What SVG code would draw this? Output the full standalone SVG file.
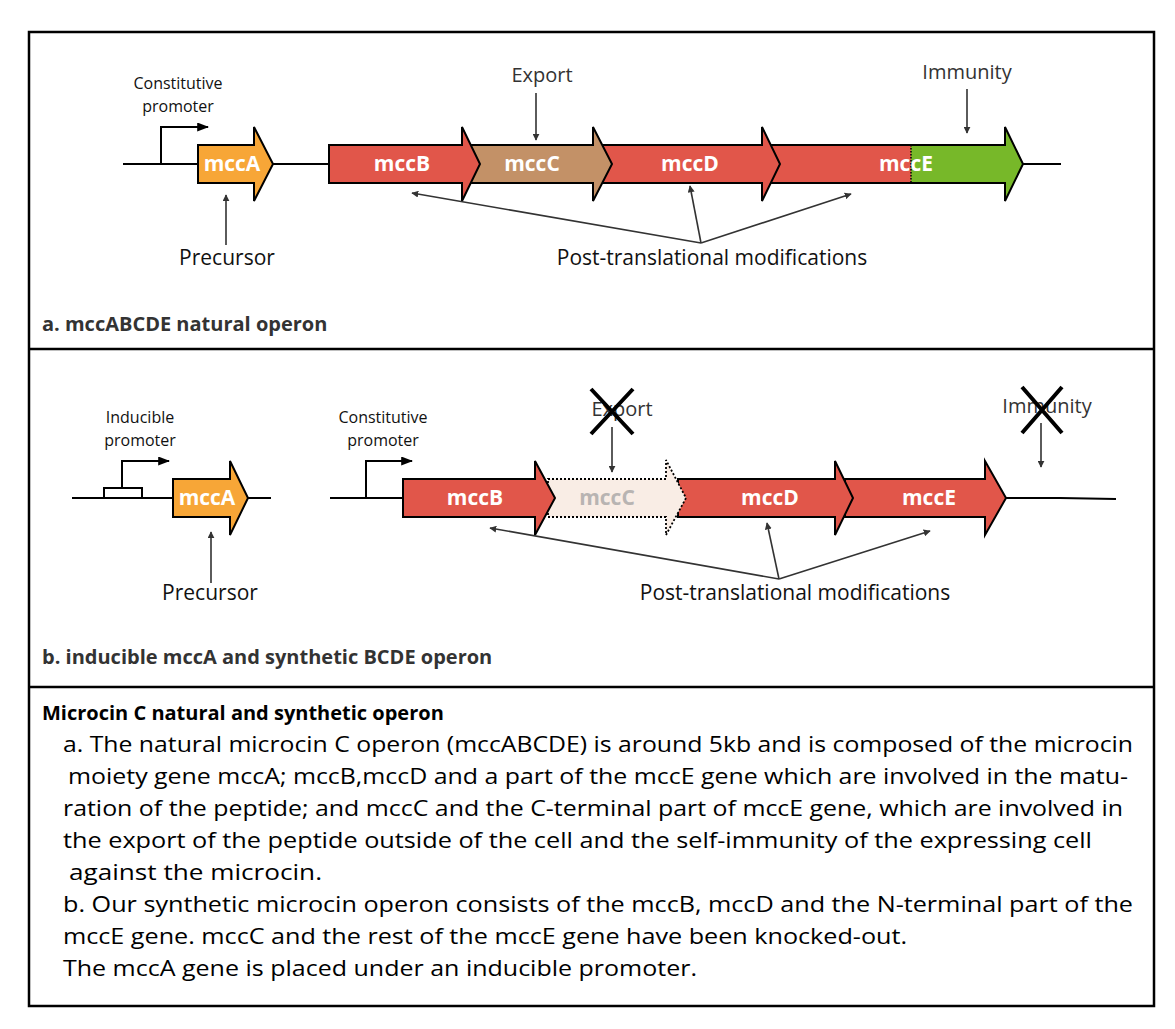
<svg xmlns="http://www.w3.org/2000/svg" width="1175" height="1029" viewBox="0 0 1175 1029">
<defs>
<marker id="ah" viewBox="0 0 10 10" refX="9" refY="5" markerWidth="7" markerHeight="7" markerUnits="userSpaceOnUse" orient="auto"><path d="M0,0 L10,5 L0,10 z" fill="#333"/></marker>
<marker id="ph" viewBox="0 0 10 10" refX="9" refY="5" markerWidth="12" markerHeight="9" markerUnits="userSpaceOnUse" orient="auto" preserveAspectRatio="none"><path d="M0,0 L10,5 L0,10 z" fill="#000"/></marker>
</defs>
<style>
.frame{fill:none;stroke:#000;stroke-width:2.5}
.dna{fill:none;stroke:#000;stroke-width:2}
.gene{stroke:#000;stroke-width:2;stroke-linejoin:miter}
.red{fill:#e1564a}
.org{fill:#f7a637}
.tan{fill:#c39167}
.grn{fill:#77b829}
.ghost{fill:#f9ede5;stroke:#000;stroke-width:1.8;stroke-dasharray:2 2}
.gl{font-family:"Open Sans",sans-serif;font-weight:bold;font-size:21px;fill:#fff;text-anchor:middle}
.prom{fill:none;stroke:#000;stroke-width:2;marker-end:url(#ph)}
.lab{font-family:"Open Sans",sans-serif;font-size:16px;fill:#111;text-anchor:middle}
.big{font-family:"Open Sans",sans-serif;font-size:21px;fill:#111;text-anchor:middle}
.fn{font-family:"Open Sans",sans-serif;font-size:20px;fill:#333;text-anchor:middle}
.con{fill:none;stroke:#333;stroke-width:1.6;marker-end:url(#ah)}
.hd{font-family:"Open Sans",sans-serif;font-weight:bold;font-size:20px;fill:#333}
.ttl{font-family:"Open Sans",sans-serif;font-weight:bold;font-size:20px;fill:#000}
.body{font-family:"Open Sans",sans-serif;font-size:21.5px;fill:#000}
.x{stroke:#000;stroke-width:4;fill:none}
</style>
<g id="frame">
<rect class="frame" x="29" y="32" width="1125" height="974"/>
<line class="frame" x1="29" y1="349" x2="1154" y2="349"/>
<line class="frame" x1="29" y1="687" x2="1154" y2="687"/>
</g>
<g id="section-a">
<g id="dna-a">
<line class="dna" x1="123" y1="164" x2="200" y2="164"/>
<line class="dna" x1="272" y1="164" x2="331" y2="164"/>
<line class="dna" x1="1022" y1="164" x2="1061" y2="164"/>
</g>
<g id="promoter-a">
<polyline class="prom" points="161,164 161,127 208,127"/>
<text class="lab" x="178" y="89">Constitutive</text>
<text class="lab" x="178" y="112">promoter</text>
</g>
<g id="mccE-a">
<polygon class="red" points="770,145 911,145 911,183 770,183"/>
<polygon class="grn" points="911,145 1005,145 1005,127 1023,164 1005,201 1005,183 911,183"/>
<polygon class="gene" fill="none" points="770,145 1005,145 1005,127 1023,164 1005,201 1005,183 770,183"/>
<line x1="911" y1="145" x2="911" y2="183" stroke="#000" stroke-width="1.5" stroke-dasharray="1.5 1.5"/>
<text class="gl" x="906" y="171">mccE</text>
</g>
<g id="mccD-a">
<polygon class="gene red" points="600,145 762,145 762,127 780,164 762,201 762,183 600,183"/>
<text class="gl" x="690" y="171">mccD</text>
</g>
<g id="mccC-a">
<polygon class="gene tan" points="470,145 593,145 593,127 612,164 593,201 593,183 470,183"/>
<text class="gl" x="532" y="171">mccC</text>
</g>
<g id="mccB-a">
<polygon class="gene red" points="329,145 462,145 462,127 480,164 462,201 462,183 329,183"/>
<text class="gl" x="402" y="171">mccB</text>
</g>
<g id="mccA-a">
<polygon class="gene org" points="198,145 254,145 254,127 273,164 254,201 254,183 198,183"/>
<text class="gl" x="232" y="171">mccA</text>
</g>
<g id="labels-a">
<text class="fn" x="542" y="82">Export</text>
<text class="fn" x="967" y="79">Immunity</text>
<text class="big" x="227" y="265">Precursor</text>
<text class="big" x="712" y="265">Post-translational modifications</text>
</g>
<text class="hd" x="42" y="331">a. mccABCDE natural operon</text>
</g>
<g id="section-b">
<g id="dna-b">
<line class="dna" x1="72" y1="498" x2="175" y2="498"/>
<line class="dna" x1="247" y1="498" x2="271" y2="498"/>
<line class="dna" x1="330" y1="498" x2="405" y2="498"/>
<polyline class="dna" points="1005,498 1060,498 1116,499"/>
</g>
<g id="promoter-inducible">
<rect x="104" y="488" width="38" height="10" fill="#fff" stroke="#000" stroke-width="2"/>
<polyline class="prom" points="122,488 122,461 169,461"/>
<text class="lab" x="140" y="423">Inducible</text>
<text class="lab" x="140" y="446">promoter</text>
</g>
<g id="promoter-b">
<polyline class="prom" points="366,498 366,461 412,461"/>
<text class="lab" x="383" y="423">Constitutive</text>
<text class="lab" x="383" y="446">promoter</text>
</g>
<g id="mccA-b">
<polygon class="gene org" points="173,479 230,479 230,461 248,498 230,535 230,517 173,517"/>
<text class="gl" x="207" y="505">mccA</text>
</g>
<g id="mccE-b">
<polygon class="gene red" points="845,479 985,479 985,461 1006,498 985,535 985,517 845,517"/>
<text class="gl" x="929" y="505">mccE</text>
</g>
<g id="mccD-b">
<polygon class="gene red" points="678,479 835,479 835,461 853,498 835,535 835,517 678,517"/>
<text class="gl" x="770" y="505">mccD</text>
</g>
<g id="mccC-b">
<polygon class="ghost" points="548,479 666,479 666,460 686,498 666,535 666,517 548,517"/>
<text class="gl" x="607" y="505" style="fill:#b8b4b2">mccC</text>
</g>
<g id="mccB-b">
<polygon class="gene red" points="403,479 535,479 535,461 555,498 535,535 535,517 403,517"/>
<text class="gl" x="475" y="505">mccB</text>
</g>
<g id="labels-b">
<text class="fn" x="622" y="416">Export</text>
<text class="fn" x="1047" y="413">Immunity</text>
<path class="x" d="M591,389 L633,434 M633,389 L591,434"/>
<path class="x" d="M1022,387 L1062,433 M1062,387 L1022,433"/>
<text class="big" x="210" y="600">Precursor</text>
<text class="big" x="795" y="600">Post-translational modifications</text>
</g>
<text class="hd" x="42" y="664">b. inducible mccA and synthetic BCDE operon</text>
</g>
<g id="connectors">
<line class="con" x1="536" y1="93" x2="536" y2="140"/>
<line class="con" x1="967" y1="89" x2="967" y2="133"/>
<line class="con" x1="226" y1="245" x2="226" y2="195"/>
<line class="con" x1="701" y1="243" x2="412" y2="193"/>
<line class="con" x1="701" y1="243" x2="690" y2="186"/>
<line class="con" x1="701" y1="243" x2="851" y2="194"/>
<line class="con" x1="612" y1="427" x2="612" y2="472"/>
<line class="con" x1="1041" y1="423" x2="1041" y2="467"/>
<line class="con" x1="211" y1="583" x2="211" y2="532"/>
<line class="con" x1="779" y1="579" x2="490" y2="528"/>
<line class="con" x1="779" y1="579" x2="767" y2="523"/>
<line class="con" x1="779" y1="579" x2="930" y2="531"/>
</g>
<g id="caption">
<text class="ttl" x="42" y="720">Microcin C natural and synthetic operon</text>
<text class="body" x="63" y="752" textLength="1070" lengthAdjust="spacingAndGlyphs">a. The natural microcin C operon (mccABCDE) is around 5kb and is composed of the microcin</text>
<text class="body" x="68" y="784" textLength="1060" lengthAdjust="spacingAndGlyphs">moiety gene mccA; mccB,mccD and a part of the mccE gene which are involved in the matu-</text>
<text class="body" x="63" y="816" textLength="1060" lengthAdjust="spacingAndGlyphs">ration of the peptide; and mccC and the C-terminal part of mccE gene, which are involved in</text>
<text class="body" x="63" y="848" textLength="1029" lengthAdjust="spacingAndGlyphs">the export of the peptide outside of the cell and the self-immunity of the expressing cell</text>
<text class="body" x="69" y="880" textLength="253" lengthAdjust="spacingAndGlyphs">against the microcin.</text>
<text class="body" x="63" y="912" textLength="1070" lengthAdjust="spacingAndGlyphs">b. Our synthetic microcin operon consists of the mccB, mccD and the N-terminal part of the</text>
<text class="body" x="63" y="944" textLength="844" lengthAdjust="spacingAndGlyphs">mccE gene. mccC and the rest of the mccE gene have been knocked-out.</text>
<text class="body" x="63" y="976" textLength="634" lengthAdjust="spacingAndGlyphs">The mccA gene is placed under an inducible promoter.</text>
</g>
</svg>
